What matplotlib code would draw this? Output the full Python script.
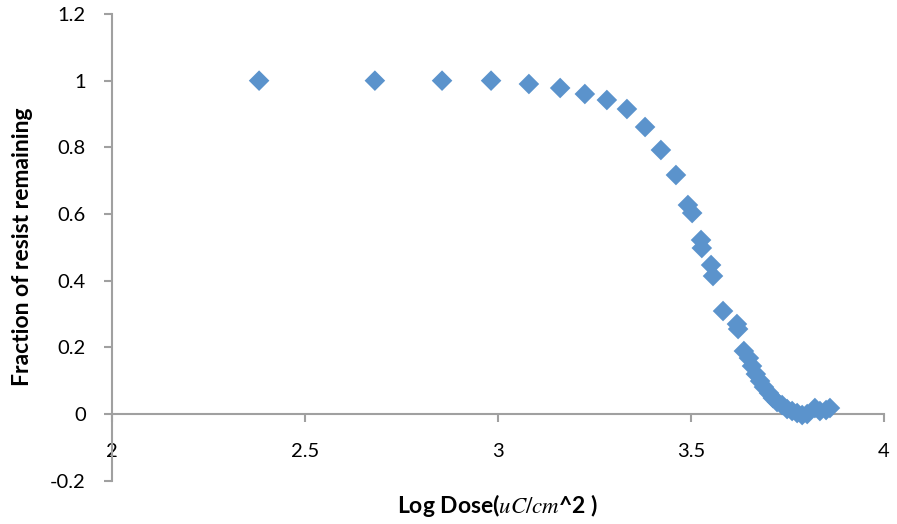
import matplotlib
matplotlib.use("Agg")
import matplotlib.pyplot as plt

# log dose vs fraction of resist remaining
log_dose = [2.381, 2.681, 2.855, 2.982, 3.080, 3.161, 3.225, 3.282, 3.334, 3.381,
            3.422, 3.461, 3.492, 3.503, 3.526, 3.528, 3.552, 3.557, 3.583, 3.619,
            3.622, 3.637, 3.650, 3.658, 3.668, 3.679, 3.689, 3.702, 3.712, 3.723,
            3.736, 3.749, 3.762, 3.775, 3.788, 3.801, 3.821, 3.834, 3.850, 3.860]
fraction = [1.0, 1.0, 1.0, 1.0, 0.990, 0.978, 0.960, 0.942, 0.915, 0.861,
            0.792, 0.717, 0.627, 0.603, 0.522, 0.498, 0.447, 0.414, 0.309, 0.270,
            0.255, 0.189, 0.168, 0.144, 0.120, 0.099, 0.081, 0.063, 0.048, 0.036,
            0.027, 0.015, 0.009, 0.003, -0.003, 0.0, 0.018, 0.009, 0.012, 0.018]

x_ticks = [2, 2.5, 3, 3.5, 4]
x_tick_labels = ["2", "2.5", "3", "3.5", "4"]
y_ticks = [-0.2, 0, 0.2, 0.4, 0.6, 0.8, 1, 1.2]
y_tick_labels = ["-0.2", "0", "0.2", "0.4", "0.6", "0.8", "1", "1.2"]

plt.rcParams['font.family'] = ['Lato', 'DejaVu Sans']
plt.rcParams['mathtext.fontset'] = 'stix'

fig = plt.figure(figsize=(8.97, 5.24), dpi=100)
ax = fig.add_axes([0.1249, 0.0826, 0.8606, 0.8907])

ax.scatter(log_dose, fraction, marker='D', s=110, color='#5B93CC',
           edgecolors='none', zorder=3, clip_on=False)

ax.set_xlim(2, 4)
ax.set_ylim(-0.2, 1.2)

ax.spines['top'].set_visible(False)
ax.spines['right'].set_visible(False)
ax.spines['bottom'].set_position(('data', 0))
for s in ('left', 'bottom'):
    ax.spines[s].set_color('#A0A0A0')
    ax.spines[s].set_linewidth(1.5)

ax.set_xticks(x_ticks)
ax.set_xticklabels(x_tick_labels)
ax.set_yticks(y_ticks)
ax.set_yticklabels(y_tick_labels)
ax.tick_params(axis='both', colors='#A0A0A0', width=1.5, length=6,
               labelcolor='black', labelsize=14.5)
ax.tick_params(axis='x', pad=15)
ax.tick_params(axis='y', pad=13)

fig.text(0.025, 0.53, "Fraction of resist remaining", rotation=90,
         ha='center', va='center', fontsize=16.5, fontweight='bold')
fig.text(0.555, 0.035, r"Log Dose($\mathit{uC/cm}$^2 )", ha='center', va='center',
         fontsize=16.5, fontweight='bold')

plt.savefig("out.png", dpi=100)
plt.close()
